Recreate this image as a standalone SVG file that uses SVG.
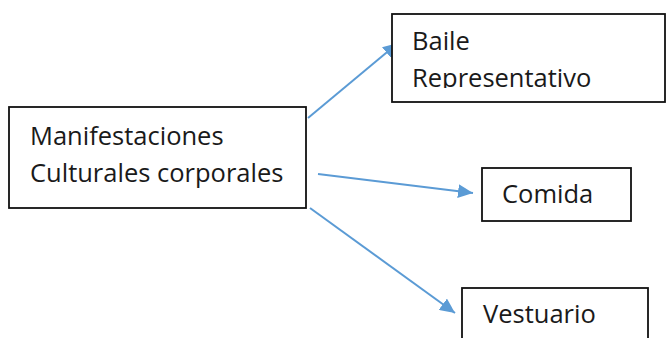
<svg xmlns="http://www.w3.org/2000/svg" width="667" height="338" viewBox="0 0 667 338">
<style>
.box{fill:#fff;stroke:#111;stroke-width:1.8}
.t{font-family:"Open Sans","Liberation Sans",sans-serif;font-size:25.5px;fill:#1a1a1a}
.c{stroke:#5b9bd5;stroke-width:2;fill:none}
</style>
<defs>
<marker id="ah" markerUnits="userSpaceOnUse" markerWidth="16" markerHeight="14" refX="15" refY="7" orient="auto">
<path d="M0,0 L15,7 L0,14 Z" fill="#5b9bd5"/>
</marker>
<clipPath id="clipB"><rect x="392" y="14" width="274" height="74"/></clipPath>
</defs>
<rect width="667" height="338" fill="#fff"/>
<g id="connectors">
<line class="c" x1="308" y1="118" x2="398" y2="43" marker-end="url(#ah)"/>
<line class="c" x1="318" y1="174" x2="473" y2="193" marker-end="url(#ah)"/>
<line class="c" x1="310" y1="208" x2="455" y2="313" marker-end="url(#ah)"/>
</g>
<g id="main">
<rect class="box" x="9" y="107" width="297" height="101"/>
<text class="t" x="30" y="145">Manifestaciones</text>
<text class="t" x="30" y="182">Culturales corporales</text>
</g>
<g id="baile">
<rect class="box" x="392" y="14" width="273" height="88"/>
<g clip-path="url(#clipB)">
<text class="t" x="412" y="50">Baile</text>
<text class="t" x="412" y="87">Representativo</text>
</g>
</g>
<g id="comida">
<rect class="box" x="482" y="168" width="149" height="53"/>
<text class="t" x="502" y="203">Comida</text>
</g>
<g id="vestuario">
<rect class="box" x="462" y="288" width="186" height="60"/>
<text class="t" x="483" y="323">Vestuario</text>
</g>
</svg>
